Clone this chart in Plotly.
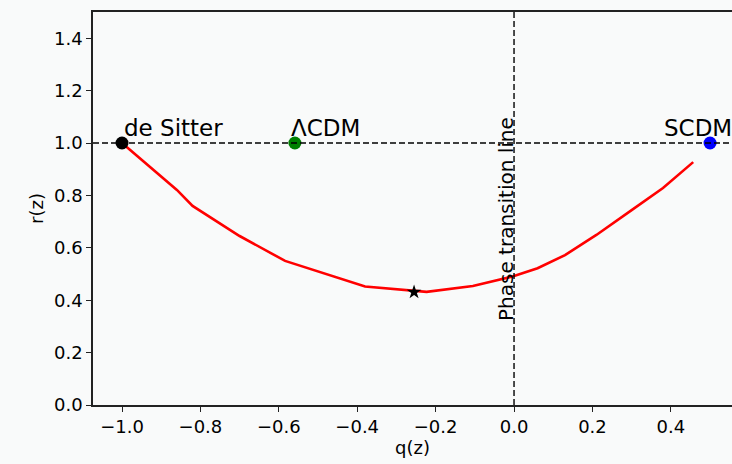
import plotly.graph_objects as go

# r-q trajectory
q_vals = [-1.0, -0.86, -0.82, -0.70, -0.584, -0.38, -0.223, -0.105, 0.0, 0.06, 0.13, 0.21, 0.30, 0.38, 0.457]
r_vals = [1.0, 0.821, 0.760, 0.645, 0.550, 0.452, 0.432, 0.454, 0.492, 0.522, 0.572, 0.649, 0.744, 0.828, 0.927]

# fixed points
fp_names = ["de Sitter", "ΛCDM", "SCDM"]
fp_q = [-1.0, -0.559, 0.5]
fp_r = [1.0, 1.0, 1.0]
fp_colors = ["black", "green", "blue"]
label_q = [-0.999, -0.573, 0.378]

star_q = [-0.255]
star_r = [0.431]

x_ticks = [-1.0, -0.8, -0.6, -0.4, -0.2, 0.0, 0.2, 0.4]
x_tick_text = ["\u22121.0", "\u22120.8", "\u22120.6", "\u22120.4", "\u22120.2", "0.0", "0.2", "0.4"]
y_ticks = [0.0, 0.2, 0.4, 0.6, 0.8, 1.0, 1.2, 1.4]
y_tick_text = ["0.0", "0.2", "0.4", "0.6", "0.8", "1.0", "1.2", "1.4"]

bg = "#f9fafa"
font = "DejaVu Sans"

fig = go.Figure()
fig.add_trace(go.Scatter(x=q_vals, y=r_vals, mode="lines",
                         line=dict(color="red", width=2.6), showlegend=False))
fig.add_trace(go.Scatter(x=fp_q, y=fp_r, mode="markers",
                         marker=dict(color=fp_colors, size=13), showlegend=False))
fig.add_trace(go.Scatter(x=star_q, y=star_r, mode="markers",
                         marker=dict(color="black", size=11, symbol="star"), showlegend=False))

for name, lq in zip(fp_names, label_q):
    fig.add_annotation(x=lq, y=1.057, text=name, showarrow=False, xanchor="left",
                       yanchor="middle", font=dict(family=font, size=23, color="black"))

fig.add_annotation(x=0, y=0.71, text="Phase transition line", textangle=-90, showarrow=False,
                   xanchor="center", yanchor="middle", xshift=-8,
                   font=dict(family=font, size=20, color="black"))

fig.add_shape(type="line", xref="paper", yref="y", x0=0, x1=1, y0=1, y1=1,
              line=dict(color="black", width=1.4, dash="6px,3px"))
fig.add_shape(type="line", xref="x", yref="paper", x0=0, x1=0, y0=0, y1=1,
              line=dict(color="black", width=1.4, dash="6px,3px"))

fig.update_layout(
    width=732, height=464,
    margin=dict(l=93, r=0, t=12, b=59),
    paper_bgcolor=bg, plot_bgcolor=bg,
    font=dict(family=font, size=18, color="black"),
)
fig.update_xaxes(range=[-1.074, 0.556], tickvals=x_ticks, ticktext=x_tick_text,
                 showgrid=False, zeroline=False, showline=True, linecolor="#222", linewidth=1.5,
                 mirror=True, ticks="outside", ticklen=5, tickcolor="#222",
                 title=dict(text="q(z)", font=dict(size=18), standoff=4))
fig.update_yaxes(range=[0, 1.5], tickvals=y_ticks, ticktext=y_tick_text,
                 showgrid=False, zeroline=False, showline=True, linecolor="#222", linewidth=1.5,
                 ticks="outside", ticklen=5, tickcolor="#222",
                 title=dict(text="r(z)", font=dict(size=18), standoff=6))

fig.write_html("out.html")
